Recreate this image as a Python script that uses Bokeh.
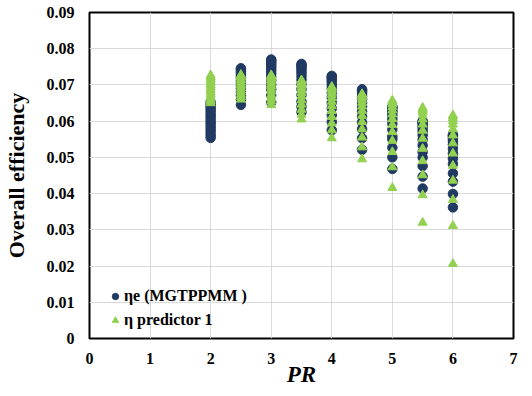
from bokeh.plotting import figure
from bokeh.models import (ColumnDataSource, FixedTicker, CustomJSTickFormatter,
                          Legend, LegendItem, Range1d)
from bokeh.embed import file_html
from bokeh.resources import INLINE

# ---- data ----
pr_values = [2.0, 2.5, 3.0, 3.5, 4.0, 4.5, 5.0, 5.5, 6.0]

eta_e_pr20 = [0.0652, 0.0645, 0.0638, 0.0632, 0.0625, 0.0617, 0.0610, 0.0602, 0.0595, 0.0587, 0.0579, 0.0571, 0.0562, 0.0554]
eta_e_pr25 = [0.0746, 0.0742, 0.0737, 0.0732, 0.0726, 0.0720, 0.0713, 0.0706, 0.0698, 0.0690, 0.0681, 0.0671, 0.0660, 0.0645]
eta_e_pr30 = [0.0770, 0.0767, 0.0763, 0.0758, 0.0753, 0.0747, 0.0740, 0.0732, 0.0723, 0.0713, 0.0701, 0.0688, 0.0672, 0.0652]
eta_e_pr35 = [0.0758, 0.0755, 0.0751, 0.0746, 0.0740, 0.0733, 0.0724, 0.0714, 0.0702, 0.0688, 0.0672, 0.0654, 0.0640, 0.0625]
eta_e_pr40 = [0.0725, 0.0722, 0.0718, 0.0713, 0.0707, 0.0699, 0.0690, 0.0679, 0.0666, 0.0651, 0.0635, 0.0617, 0.0598, 0.0575]
eta_e_pr45 = [0.0688, 0.0685, 0.0681, 0.0676, 0.0669, 0.0661, 0.0651, 0.0640, 0.0627, 0.0612, 0.0596, 0.0578, 0.0553, 0.0521]
eta_e_pr50 = [0.0640, 0.0638, 0.0635, 0.0630, 0.0624, 0.0616, 0.0606, 0.0593, 0.0577, 0.0558, 0.0550, 0.0527, 0.0500, 0.0468]
eta_e_pr55 = [0.0600, 0.0598, 0.0594, 0.0589, 0.0582, 0.0573, 0.0562, 0.0549, 0.0533, 0.0515, 0.0500, 0.0476, 0.0447, 0.0414]
eta_e_pr60 = [0.0562, 0.0560, 0.0556, 0.0551, 0.0544, 0.0535, 0.0524, 0.0511, 0.0497, 0.0482, 0.0456, 0.0433, 0.0399, 0.0362]

pred_pr20 = [0.0727, 0.0722, 0.0716, 0.0711, 0.0705, 0.0699, 0.0693, 0.0687, 0.0681, 0.0674, 0.0667, 0.0660, 0.0655, 0.0650]
pred_pr25 = [0.0728, 0.0725, 0.0721, 0.0717, 0.0713, 0.0708, 0.0703, 0.0698, 0.0692, 0.0686, 0.0680, 0.0673, 0.0667, 0.0660]
pred_pr30 = [0.0727, 0.0725, 0.0722, 0.0718, 0.0714, 0.0709, 0.0703, 0.0697, 0.0690, 0.0682, 0.0673, 0.0663, 0.0655, 0.0645]
pred_pr35 = [0.0713, 0.0711, 0.0708, 0.0704, 0.0699, 0.0693, 0.0686, 0.0678, 0.0669, 0.0658, 0.0646, 0.0632, 0.0618, 0.0605]
pred_pr40 = [0.0695, 0.0693, 0.0690, 0.0686, 0.0680, 0.0673, 0.0664, 0.0654, 0.0642, 0.0628, 0.0612, 0.0594, 0.0575, 0.0553]
pred_pr45 = [0.0675, 0.0673, 0.0670, 0.0665, 0.0659, 0.0651, 0.0641, 0.0629, 0.0615, 0.0598, 0.0578, 0.0555, 0.0528, 0.0495]
pred_pr50 = [0.0657, 0.0655, 0.0651, 0.0646, 0.0639, 0.0630, 0.0619, 0.0606, 0.0590, 0.0570, 0.0546, 0.0515, 0.0473, 0.0416]
pred_pr55 = [0.0637, 0.0634, 0.0630, 0.0624, 0.0616, 0.0605, 0.0591, 0.0574, 0.0552, 0.0524, 0.0490, 0.0451, 0.0396, 0.0320]
pred_pr60 = [0.0616, 0.0613, 0.0608, 0.0601, 0.0591, 0.0578, 0.0561, 0.0539, 0.0511, 0.0477, 0.0436, 0.0383, 0.0311, 0.0206]

x_ticks = [0, 1, 2, 3, 4, 5, 6, 7]
y_ticks = [0, 0.01, 0.02, 0.03, 0.04, 0.05, 0.06, 0.07, 0.08, 0.09]

eta_e_cols = [eta_e_pr20, eta_e_pr25, eta_e_pr30, eta_e_pr35, eta_e_pr40,
              eta_e_pr45, eta_e_pr50, eta_e_pr55, eta_e_pr60]
pred_cols = [pred_pr20, pred_pr25, pred_pr30, pred_pr35, pred_pr40,
             pred_pr45, pred_pr50, pred_pr55, pred_pr60]

def flatten(cols):
    xs, ys = [], []
    for pr, col in zip(pr_values, cols):
        for v in col:
            xs.append(pr)
            ys.append(v)
    return dict(x=xs, y=ys)

src_e = ColumnDataSource(flatten(eta_e_cols))
src_p = ColumnDataSource(flatten(pred_cols))

FONT = "Liberation Serif"
NAVY = "#203A63"
GREEN = "#92D050"

p = figure(frame_width=424, frame_height=326, output_backend="svg",
           toolbar_location=None,
           x_range=Range1d(0, 7), y_range=Range1d(0, 0.09),
           min_border_left=86, min_border_right=20, min_border_top=12,
           min_border_bottom=56)

r_e = p.scatter("x", "y", source=src_e, marker="circle", size=9.5,
                fill_color=NAVY, line_color=NAVY)
r_p = p.scatter("x", "y", source=src_p, marker="triangle", size=9,
                fill_color=GREEN, line_color=GREEN)

p.xaxis.ticker = FixedTicker(ticks=x_ticks)
p.yaxis.ticker = FixedTicker(ticks=y_ticks)
p.yaxis.formatter = CustomJSTickFormatter(
    code="return tick === 0 ? '0' : tick.toFixed(2);")

for ax in (p.xaxis[0], p.yaxis[0]):
    ax.axis_line_color = None
    ax.major_tick_line_color = None
    ax.minor_tick_line_color = None
    ax.major_tick_out = 0
    ax.major_tick_in = 0
    ax.minor_tick_out = 0
    ax.minor_tick_in = 0
    ax.major_label_text_font = FONT
    ax.major_label_text_font_style = "bold"
    ax.major_label_text_font_size = "16px"
    ax.major_label_text_color = "black"
    ax.axis_label_text_font = FONT
    ax.axis_label_text_color = "black"

p.xaxis.major_label_standoff = 14
p.yaxis.major_label_standoff = 15
p.xaxis.axis_label = "PR"
p.xaxis.axis_label_text_font_style = "bold italic"
p.xaxis.axis_label_text_font_size = "23px"
p.xaxis.axis_label_standoff = -5
p.yaxis.axis_label = "Overall efficiency"
p.yaxis.axis_label_text_font_style = "bold"
p.yaxis.axis_label_text_font_size = "22px"
p.yaxis.axis_label_standoff = 15

p.xgrid.grid_line_color = "#D9D9D9"
p.ygrid.grid_line_color = "#D9D9D9"
p.outline_line_color = "black"
p.outline_line_width = 2
p.outline_line_alpha = 1.0

legend = Legend(items=[
    LegendItem(label="ηe (MGTPPMM )", renderers=[r_e]),
    LegendItem(label="η predictor 1", renderers=[r_p]),
], location=(18, 8), orientation="vertical")
legend.background_fill_alpha = 0
legend.border_line_color = None
legend.padding = 0
legend.margin = 0
legend.spacing = 4
legend.glyph_width = 16
legend.glyph_height = 16
legend.label_standoff = 1
legend.label_height = 20
legend.label_text_font = FONT
legend.label_text_font_style = "bold"
legend.label_text_font_size = "16px"
legend.label_text_color = "black"
p.add_layout(legend, "center")

open("out.html", "w").write(file_html(p, INLINE))
